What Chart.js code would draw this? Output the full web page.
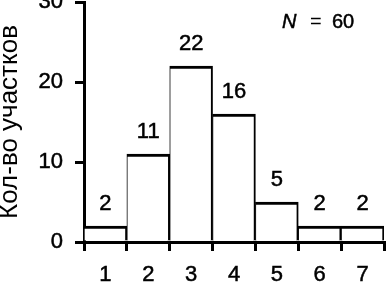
<!DOCTYPE html>
<html>
<head>
<meta charset="utf-8">
<script src="https://cdn.jsdelivr.net/npm/chart.js@4"></script>
<style>
html,body{margin:0;padding:0;background:#fff;}
#wrap{width:386px;height:289px;position:relative;}
</style>
</head>
<body>
<div id="wrap"><canvas id="c" width="386" height="289"></canvas></div>
<script>
const categories = ['1','2','3','4','5','6','7'];
const counts = [2, 11, 22, 16, 5, 2, 2];
const yTicks = [0, 10, 20, 30];
const yTitle = 'Кол-во участков';
const nLabel = 'N';
const nValue = '60';

const FONT = "'Liberation Sans', Arial, Helvetica, sans-serif";

const valueLabels = {
  id: 'valueLabels',
  afterDatasetsDraw(chart) {
    const ctx = chart.ctx;
    const meta = chart.getDatasetMeta(0);
    ctx.save();
    ctx.fillStyle = '#000';
    ctx.strokeStyle = '#000';
    ctx.lineWidth = 0.5;
    ctx.font = '22px ' + FONT;
    ctx.textAlign = 'center';
    ctx.textBaseline = 'alphabetic';
    meta.data.forEach((bar, i) => {
      ctx.fillText(String(counts[i]), bar.x, bar.y - 16);
      ctx.strokeText(String(counts[i]), bar.x, bar.y - 16);
    });
    ctx.restore();
  }
};

const nText = {
  id: 'nText',
  afterDraw(chart) {
    const ctx = chart.ctx;
    ctx.save();
    ctx.fillStyle = '#000';
    ctx.strokeStyle = '#000';
    ctx.lineWidth = 0.5;
    ctx.textBaseline = 'alphabetic';
    ctx.textAlign = 'left';
    ctx.font = 'italic 20px ' + FONT;
    ctx.fillText(nLabel, 282, 28);
    ctx.strokeText(nLabel, 282, 28);
    ctx.font = '20px ' + FONT;
    ctx.fillText('=', 310, 28);
    ctx.fillText(nValue, 332, 28);
    ctx.strokeText(nValue, 332, 28);
    ctx.restore();
  }
};

new Chart(document.getElementById('c'), {
  type: 'bar',
  data: {
    labels: categories,
    datasets: [{
      data: counts,
      backgroundColor: '#fff',
      borderColor: '#000',
      borderWidth: {top: 3, left: 1, right: 2, bottom: 0},
      borderSkipped: false,
      categoryPercentage: 1,
      barPercentage: 1
    }]
  },
  options: {
    responsive: false,
    animation: false,
    devicePixelRatio: 1,
    layout: {padding: {top: 2, right: 2, left: 0, bottom: 0}},
    plugins: {legend: {display: false}, tooltip: {enabled: false}},
    scales: {
      x: {
        offset: true,
        grid: {display: true, drawOnChartArea: false, drawTicks: true, tickLength: 9, color: '#000', lineWidth: 3, offset: true},
        border: {display: true, color: '#000', width: 3},
        ticks: {color: '#000', font: {family: FONT, size: 22}, padding: 11, textStrokeColor: '#000', textStrokeWidth: 0.5},
        afterFit(scale) { scale.height = 47; scale.paddingLeft = 0; scale.paddingRight = 0; }
      },
      y: {
        min: 0,
        max: 30,
        afterBuildTicks(scale) { scale.ticks = yTicks.map(v => ({value: v})); },
        grid: {display: true, drawOnChartArea: false, drawTicks: true, tickLength: 9, color: '#000', lineWidth: 3},
        border: {display: true, color: '#000', width: 3},
        ticks: {color: '#000', font: {family: FONT, size: 22}, padding: 12, textStrokeColor: '#000', textStrokeWidth: 0.5},
        title: {display: true, text: yTitle, color: '#000', font: {family: FONT, size: 26, lineHeight: 0.75}, padding: 0},
        afterFit(scale) { scale.width = 84; scale.paddingTop = 0; scale.paddingBottom = 0; }
      }
    }
  },
  plugins: [valueLabels, nText]
});
</script>
</body>
</html>
